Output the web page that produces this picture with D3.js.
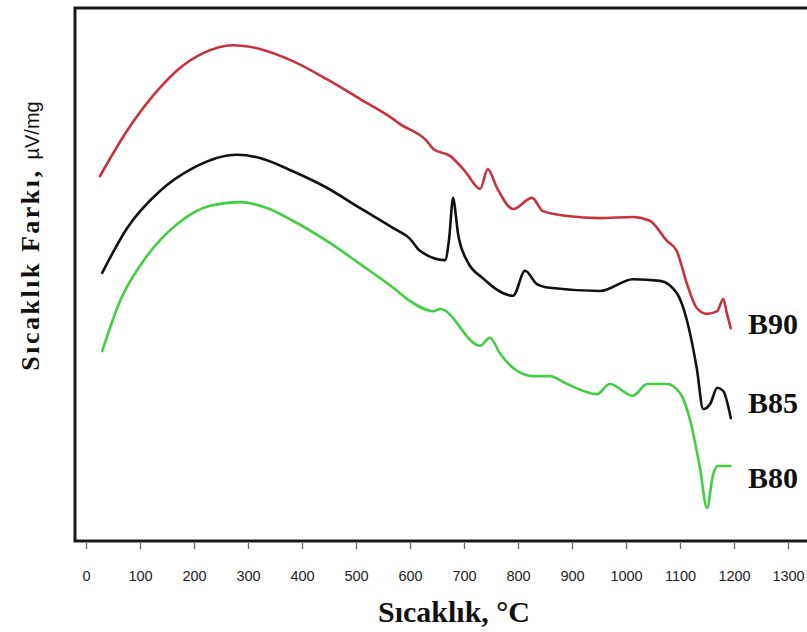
<!DOCTYPE html>
<html>
<head>
<meta charset="utf-8">
<script src="https://cdn.jsdelivr.net/npm/d3@7"></script>
<style>
  body { margin: 0; background: #fff; }
  svg { display: block; }
</style>
</head>
<body>
<div id="chart"></div>
<script>
// DTA curves, [temperature °C, signal (arbitrary units)]
const b90 = [
  [26, 68.6], [76, 77.1], [137, 85.2], [174, 88.9], [217, 91.7], [272, 93.2],
  [322, 92.5], [383, 90.2], [446, 86.8], [507, 83.1], [569, 79.3], [581, 78.4],
  [631, 75.2], [643, 73.7], [674, 72.4], [702, 69.5], [730, 66.2], [744, 69.9],
  [761, 66.4], [791, 62.4], [826, 64.5], [846, 62.0], [891, 61.1], [952, 60.7],
  [1013, 60.9], [1044, 60.2], [1076, 56.4], [1094, 54.5], [1113, 48.3],
  [1131, 43.8], [1150, 42.7], [1169, 43.2], [1180, 45.5], [1187, 42.7], [1194, 40.0]
]
const b85 = [
  [30, 50.4], [76, 58.8], [137, 65.8], [198, 70.1], [280, 72.6], [322, 72.0],
  [383, 69.5], [446, 66.4], [507, 62.6], [569, 58.8], [600, 56.8], [619, 54.5],
  [665, 52.8], [672, 56.4], [680, 64.5], [685, 61.1], [689, 57.7], [706, 52.6],
  [735, 49.4], [791, 46.1], [813, 50.8], [835, 48.3], [859, 47.6], [952, 47.0],
  [1013, 49.2], [1063, 48.9], [1094, 46.6], [1113, 41.4], [1131, 32.5],
  [1143, 24.8], [1156, 25.8], [1169, 28.8], [1180, 28.2], [1194, 23.1]
]
const b80 = [
  [30, 35.7], [63, 45.1], [106, 52.6], [169, 59.6], [230, 63.0], [285, 63.7],
  [335, 62.6], [383, 60.2], [446, 56.4], [507, 52.1], [569, 47.6], [600, 45.1],
  [643, 43.2], [656, 43.6], [730, 36.7], [748, 38.2], [767, 35.2], [798, 32.0],
  [828, 31.0], [859, 31.0], [891, 29.5], [946, 27.6], [970, 29.5], [1013, 27.3],
  [1039, 29.5], [1076, 29.5], [1100, 27.8], [1119, 22.6], [1137, 13.7],
  [1150, 6.2], [1161, 12.4], [1170, 14.1], [1193, 14.1]
]
const seriesNames = ["B90", "B85", "B80"]
const seriesColors = ["#c9313c", "#111111", "#3fcf3f"]
const labelY = [38.9, 24.1, 10.0] // baseline of each series name, in signal units
const xTicks = d3.range(0, 1301, 100)

const width = 807
const height = 632
const plotLeft = 75, plotTop = 8, plotBottom = 541

const svg = d3.select("#chart").append("svg")
  .attr("width", width).attr("height", height)

const x = d3.scaleLinear().domain([0, 1300]).range([86, 788])
const y = d3.scaleLinear().domain([0, 100]).range([plotBottom, plotBottom - 532])

// frame (right side runs off the picture)
svg.append("rect")
  .attr("x", plotLeft).attr("y", plotTop)
  .attr("width", 760).attr("height", plotBottom - plotTop)
  .attr("fill", "none").attr("stroke", "#1a1a1a").attr("stroke-width", 3)

// x axis
const xAxis = svg.append("g")
  .attr("transform", `translate(0, ${plotBottom + 2})`)
  .call(d3.axisBottom(x).tickValues(xTicks).tickSize(6).tickPadding(22).tickFormat(d3.format("d")))
xAxis.select(".domain").remove()
xAxis.selectAll(".tick line").attr("stroke", "#666").attr("stroke-width", 1.3)
xAxis.selectAll(".tick text")
  .attr("fill", "#222")
  .style("font-family", "Arial, 'Liberation Sans', sans-serif")
  .style("font-size", "14.5px")

// curves
const line = d3.line()
  .x(d => x(d[0]))
  .y(d => y(d[1]))
  .curve(d3.curveMonotoneX)

;[b90, b85, b80].forEach((data, i) => {
  svg.append("path")
    .attr("d", line(data))
    .attr("fill", "none")
    .attr("stroke", seriesColors[i])
    .attr("stroke-width", 2.6)
    .attr("stroke-linejoin", "round")
    .attr("stroke-linecap", "round")
})

// series names
seriesNames.forEach((name, i) => {
  svg.append("text")
    .attr("x", 748)
    .attr("y", y(labelY[i]))
    .attr("fill", "#111")
    .style("font-family", "'Times New Roman', 'Liberation Serif', serif")
    .style("font-weight", "bold")
    .style("font-size", "30px")
    .text(name)
})

// axis titles
svg.append("text")
  .attr("x", 454).attr("y", 622)
  .attr("text-anchor", "middle")
  .attr("fill", "#111")
  .style("font-family", "'Times New Roman', 'Liberation Serif', serif")
  .style("font-weight", "bold")
  .style("font-size", "30px")
  .text("Sıcaklık, °C")

const yTitle = svg.append("text")
  .attr("transform", `translate(39, 236) rotate(-90)`)
  .attr("text-anchor", "middle")
  .attr("fill", "#111")
yTitle.append("tspan")
  .style("font-family", "'Times New Roman', 'Liberation Serif', serif")
  .style("font-weight", "bold")
  .style("font-size", "26px")
  .style("letter-spacing", "2.5px")
  .text("Sıcaklık Farkı, ")
yTitle.append("tspan")
  .style("font-family", "Arial, 'Liberation Sans', sans-serif")
  .style("font-size", "20px")
  .text("µV/mg")
</script>
</body>
</html>
